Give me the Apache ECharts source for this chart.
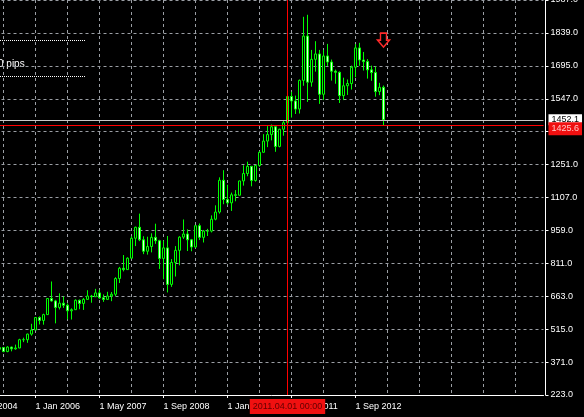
<!DOCTYPE html>
<html><head><meta charset="utf-8">
<script src="https://cdn.jsdelivr.net/npm/echarts@6/dist/echarts.min.js"></script>
<style>html,body{margin:0;padding:0;background:#000;}#c{width:584px;height:417px;}</style>
</head><body><div id="c"></div>
<script>
// ---- data ----
const firstYear = 2004, firstMonth = 9;   // first category: Sep 2004
const categoryCount = 144;
const firstDataCategory = '2005.04';

const opens = [427,435,417,437,429,433,470,470,495,
  513,569,556,582,654,643,614,633,624,599,604,646,
  632,650,665,662,679,657,650,665,673,743,789,783,
  834,923,972,916,865,886,927,912,833,880,717,815,
  869,928,942,916,884,979,927,955,955,1008,1040,1182,
  1096,1081,1117,1115,1179,1212,1244,1181,1248,1307,1357,1386,
  1421,1333,1410,1439,1556,1536,1500,1628,1826,1620,1722,1746,
  1566,1737,1710,1669,1664,1560,1604,1614,1687,1773,1719,1712,
  1675,1663,1578,1597];
const highs = [438,437,441,439,448,474,479,497,541,
  571,574,586,655,730,648,677,663,632,610,650,649,
  656,691,670,697,693,672,684,683,749,795,848,838,
  932,975,1033,932,930,945,988,916,913,933,830,888,
  932,1007,963,920,980,989,960,965,1025,1070,1195,1227,
  1162,1127,1138,1180,1249,1265,1245,1251,1311,1388,1424,1431,
  1424,1412,1447,1576,1577,1560,1632,1912,1921,1764,1803,1764,
  1764,1791,1721,1676,1668,1640,1632,1694,1790,1796,1755,1723,
  1694,1690,1617,1605];
const lows = [420,414,414,418,425,432,459,456,488,
  513,538,537,581,640,543,605,612,561,560,603,606,
  603,649,635,661,652,639,647,642,665,723,775,782,
  834,888,910,852,850,860,898,786,740,681,706,752,
  802,920,866,865,881,915,904,933,949,1003,1033,1075,
  1073,1045,1088,1115,1158,1200,1155,1176,1242,1305,1330,1360,
  1309,1329,1381,1420,1462,1478,1480,1604,1532,1600,1667,1523,
  1540,1693,1627,1613,1527,1540,1563,1587,1642,1693,1672,1636,
  1626,1555,1562,1425];
const closes = [435,417,437,429,433,470,470,495,513,
  569,556,582,654,643,614,633,624,599,604,646,632,
  650,665,662,679,657,650,665,673,743,789,783,834,
  923,972,916,865,886,927,912,833,880,717,815,869,
  928,942,916,884,979,927,955,955,1008,1040,1182,1096,
  1081,1117,1115,1179,1212,1244,1181,1248,1307,1357,1386,1421,
  1333,1410,1439,1556,1536,1500,1628,1826,1620,1722,1746,1566,
  1737,1710,1669,1664,1560,1604,1614,1687,1773,1719,1712,1675,
  1663,1578,1597,1452];

const yTickLabels = ['223.0','371.0','515.0','663.0','811.0','959.0','1107.0','1251.0','1399.0','1547.0','1695.0','1839.0','1987.0'];
const yMin = 223, yMax = 1987, yStep = 147;
const monthNames = ['Jan','Feb','Mar','Apr','May','Jun','Jul','Aug','Sep','Oct','Nov','Dec'];

const bidPrice = 1452.1;
const crossPrice = 1425.6;
const crossTime = '2011.04';
const crossTimeLabel = '2011.04.01 00:00';
const arrowTime = '2013.04';
const arrowPrice = 1808;
const pipsText = '0 pips';

// ---- build ----
const categories = [];
for (let i = 0; i < categoryCount; i++) {
  const t = (firstMonth - 1) + i;
  const y = firstYear + Math.floor(t / 12), m = t % 12 + 1;
  categories.push(y + '.' + (m < 10 ? '0' + m : m));
}
const startIdx = categories.indexOf(firstDataCategory);
const candleData = categories.map((c, i) => {
  const k = i - startIdx;
  if (k < 0 || k >= closes.length) return '-';
  return [opens[k], closes[k], lows[k], highs[k]];
});
const lastLabelIdx = 96;

const FONT = 'Liberation Sans';
const gridColor = '#9a9ea4';

const chart = echarts.init(document.getElementById('c'), null, {renderer: 'canvas'});
chart.setOption({
  backgroundColor: '#000000',
  animation: false,
  grid: {left: -28.5, right: 40.5, top: 0, bottom: 22, containLabel: false, outerBoundsMode: 'none'},
  xAxis: {
    type: 'category',
    data: categories,
    boundaryGap: false,
    axisLine: {show: true, lineStyle: {color: '#ffffff', width: 1}},
    axisTick: {show: true, length: 3, lineStyle: {color: '#ffffff'},
      interval: (i) => i % 16 === 0 && i <= lastLabelIdx},
    axisLabel: {
      show: true, color: '#ffffff', fontFamily: FONT, fontSize: 9, align: 'left', margin: 7,
      interval: (i) => i % 16 === 0 && i <= lastLabelIdx,
      formatter: (v) => { const p = v.split('.'); return '1 ' + monthNames[+p[1] - 1] + ' ' + p[0]; }
    },
    splitLine: {show: true, interval: (i) => i % 8 === 0,
      lineStyle: {color: gridColor, type: [3, 3], width: 1}}
  },
  yAxis: {
    type: 'value', position: 'right', offset: 2, min: yMin, max: yMax, interval: yStep, scale: false,
    axisLine: {show: true, lineStyle: {color: '#ffffff', width: 1}},
    axisTick: {show: true, length: 3, lineStyle: {color: '#ffffff'}},
    axisLabel: {show: true, color: '#ffffff', fontFamily: FONT, fontSize: 9, margin: 5,
      formatter: (v) => { const i = Math.round((v - yMin) / yStep); return yTickLabels[i] || ''; }},
    splitLine: {show: true, lineStyle: {color: gridColor, type: [3, 3], width: 1}}
  },
  graphic: [
    {type: 'line', shape: {x1: 0, y1: 40.5, x2: 85, y2: 40.5}, style: {stroke: '#ffffff', lineWidth: 1, lineDash: [1, 1]}},
    {type: 'line', shape: {x1: 0, y1: 76.5, x2: 85, y2: 76.5}, style: {stroke: '#ffffff', lineWidth: 1, lineDash: [1, 1]}},
    {type: 'text', x: -2, y: 64, style: {text: pipsText, fill: '#ffffff', font: '10px "Liberation Sans"', verticalAlign: 'middle'}}
  ],
  series: [{
    type: 'candlestick',
    data: candleData,
    barWidth: 2,
    itemStyle: {
      color: '#000000', color0: '#e0ffe0',
      borderColor: '#00ff00', borderColor0: '#00ff00', borderWidth: 1
    },
    markLine: {
      silent: true, symbol: ['none', 'none'], animation: false,
      data: [
        {yAxis: bidPrice, lineStyle: {color: '#c8c8c8', width: 1, type: 'solid'},
          label: {show: true, position: 'end', distance: 5, formatter: String(bidPrice.toFixed(1)),
            backgroundColor: '#ffffff', color: '#000000', fontFamily: FONT, fontSize: 9, padding: [1, 3]}},
        {yAxis: crossPrice, lineStyle: {color: '#ff0000', width: 1, type: 'solid'},
          label: {show: true, position: 'end', distance: 5, offset: [0, 3], formatter: String(crossPrice.toFixed(1)),
            backgroundColor: '#f01010', color: '#ffc8c8', fontFamily: FONT, fontSize: 9, padding: [2, 3]}},
        {xAxis: categories.indexOf(crossTime), lineStyle: {color: '#ff0000', width: 1, type: 'solid'},
          label: {show: true, position: 'start', distance: 4, formatter: crossTimeLabel,
            backgroundColor: '#f01010', color: '#600000', fontFamily: FONT, fontSize: 9, padding: [3, 3]}}
      ]
    },
    markPoint: {
      silent: true, animation: false,
      data: [{
        coord: [categories.indexOf(arrowTime), arrowPrice],
        symbol: 'path://M3,0 L9,0 L9,7 L12,7 L6,14 L0,7 L3,7 Z',
        symbolSize: [12, 14],
        itemStyle: {color: 'rgba(0,0,0,0)', borderColor: '#ff2a2a', borderWidth: 1.5},
        label: {show: false}
      }]
    }
  }]
});
</script>
</body></html>
